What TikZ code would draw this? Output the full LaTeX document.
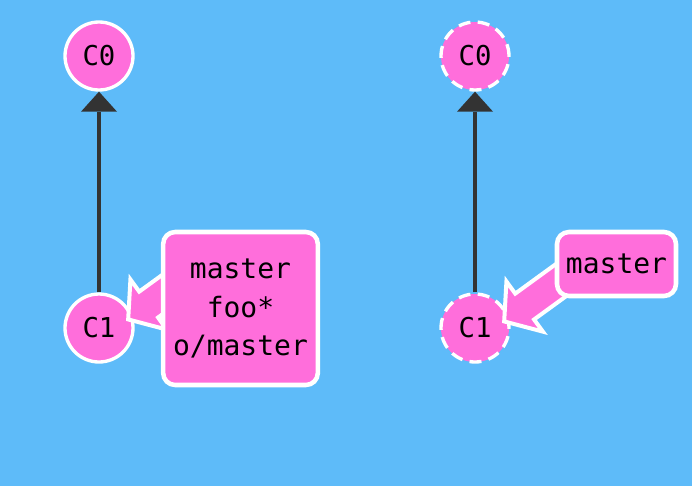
\documentclass[tikz,border=0pt]{standalone}
\usepackage{fontspec}
\newfontfamily\gitmono{DejaVu Sans Mono}
\usetikzlibrary{arrows.meta,calc}

\definecolor{gitbg}{HTML}{5EBBF9}
\definecolor{gitpink}{HTML}{FF6EDB}
\definecolor{gitedge}{HTML}{333333}

\tikzset{
  commit/.style={circle, fill=gitpink, draw=white, line width=2.5pt,
    minimum size=51pt, inner sep=0pt, font=\gitmono\fontsize{20.5}{24}\selectfont},
  ghost/.style={commit, dash pattern=on 9pt off 5.5pt},
  parent/.style={draw=gitedge, line width=2.6pt,
    -{Triangle[length=15pt,width=27pt,line width=0pt]}},
  branch/.style={rectangle, rounded corners=9pt, fill=gitpink, draw=white,
    line width=3.4pt, inner sep=0pt, align=center,
    font=\gitmono\fontsize{21}{29}\selectfont},
  refarrow/.style={fill=gitpink, draw=white, line width=3pt, line join=miter}
}

\begin{document}
\begin{tikzpicture}[x=0.75pt,y=-0.75pt]
  \fill[gitbg] (0,0) rectangle (692,486);
  \useasboundingbox (0,0) rectangle (692,486);

  % before the push
  \node[commit] (C0L) at (99,56)  {C0};
  \node[commit] (C1L) at (99,328) {C1};
  \draw[parent] (C1L) -- (C0L);

  \coordinate (tipL) at ($(C1L)+(27,-7)$);
  \begin{scope}[shift={(tipL)}, rotate=36]
    \filldraw[refarrow] (2.7,0) -- (28,31) -- (28,16) -- (90,16)
      -- (90,-16) -- (28,-16) -- (28,-31) -- cycle;
  \end{scope}
  \node[branch, minimum width=116pt, minimum height=114.75pt]
    (masterL) at (240.5,308.5) {master\\foo*\\o/master};

  % after the push
  \node[ghost] (C0R) at (475,56)  {C0};
  \node[ghost] (C1R) at (475,328) {C1};
  \draw[parent] (C1R) -- (C0R);

  \coordinate (tipR) at ($(C1R)+(27,-5)$);
  \begin{scope}[shift={(tipR)}, rotate=36]
    \filldraw[refarrow] (2.7,0) -- (28,31) -- (28,16) -- (90,16)
      -- (90,-16) -- (28,-16) -- (28,-31) -- cycle;
  \end{scope}
  \node[branch, minimum width=89.25pt, minimum height=48pt]
    (masterR) at (616.5,264) {master};
\end{tikzpicture}
\end{document}
